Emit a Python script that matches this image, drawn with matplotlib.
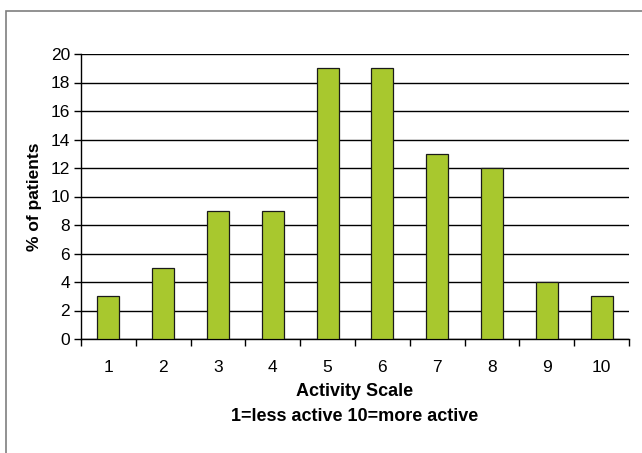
import matplotlib
matplotlib.use("Agg")
import matplotlib.pyplot as plt
from matplotlib.patches import Rectangle

plt.rcParams['font.family'] = ['Liberation Sans', 'DejaVu Sans']

categories = ['1', '2', '3', '4', '5', '6', '7', '8', '9', '10']
percent_patients = [3, 5, 9, 9, 19, 19, 13, 12, 4, 3]
y_ticks = [0, 2, 4, 6, 8, 10, 12, 14, 16, 18, 20]

fig = plt.figure(figsize=(6.42, 4.53), dpi=100)
fig.patch.set_facecolor('white')

# outer chart frame
fig.add_artist(Rectangle((6 / 642, -0.2), 1.2, 1.2 - 11 / 453,
                         transform=fig.transFigure, fill=False,
                         edgecolor='#7f7f7f', linewidth=1.2))

ax = fig.add_axes([81 / 642, (453 - 339) / 453, (629 - 81) / 642, (339 - 54) / 453])

x = list(range(len(categories)))
ax.bar(x, percent_patients, width=0.4, color='#A8C82E', edgecolor='#1a1a1a',
       linewidth=0.9, zorder=3)

ax.set_xlim(-0.5, len(categories) - 0.5)
ax.set_ylim(0, 20)
ax.set_yticks(y_ticks)
ax.yaxis.grid(True, color='black', linewidth=1.0, zorder=0)
ax.set_axisbelow(True)

# category labels centred, tick marks at category boundaries
ax.set_xticks([i - 0.5 for i in range(len(categories) + 1)])
ax.set_xticklabels([])
ax.set_xticks(x, minor=True)
ax.set_xticklabels(categories, minor=True)
ax.tick_params(axis='x', which='minor', length=0, pad=15, labelsize=12.5)
ax.tick_params(axis='x', which='major', length=5, direction='out', width=1)
ax.tick_params(axis='y', length=5, direction='out', width=1, labelsize=12.5, pad=3)

for side in ['top', 'right']:
    ax.spines[side].set_visible(False)
ax.spines['left'].set_linewidth(1)
ax.spines['bottom'].set_linewidth(1)

ax.set_ylabel('% of patients', fontsize=12.5, fontweight='bold', labelpad=6)
ax.set_xlabel('Activity Scale\n1=less active 10=more active', fontsize=13,
              fontweight='bold', linespacing=1.58, labelpad=6)

fig.savefig('out.png', dpi=100)
